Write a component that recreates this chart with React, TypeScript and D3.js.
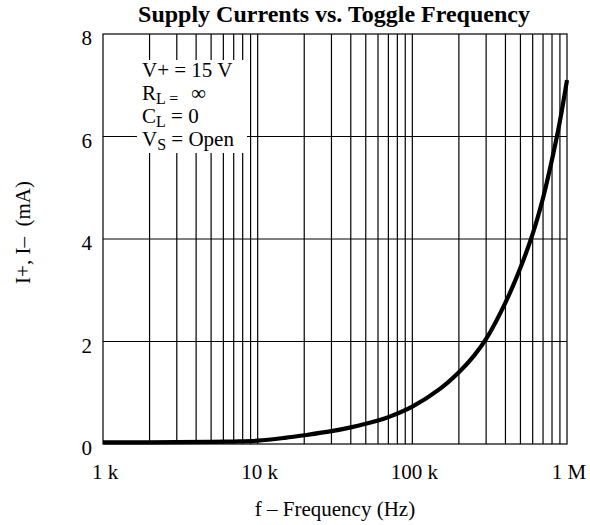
import React from "react";
import * as d3 from "d3";

const freqs = [1e3, 2e3, 5e3, 7e3, 1e4, 1.5e4, 2e4, 3e4, 4e4, 5e4, 6e4, 7e4, 1e5, 1.5e5, 2e5, 2.5e5, 3e5, 4e5, 5e5, 6e5, 7e5, 8e5, 9e5, 1e6];
const currents = [0.03, 0.033, 0.04, 0.048, 0.065, 0.12, 0.17, 0.25, 0.325, 0.395, 0.46, 0.525, 0.73, 1.07, 1.4, 1.72, 2.05, 2.76, 3.44, 4.1, 4.8, 5.55, 6.3, 7.1];
const yTicks = [0, 2, 4, 6, 8];
const xTickValues = [1e3, 1e4, 1e5, 1e6];
const xTickLabels = ["1 k", "10 k", "100 k", "1 M"];

const W = 590, H = 525;
const L = 103, R = 567, T = 34, B = 444;
const FONT = "'Liberation Serif', 'Times New Roman', serif";

export default function App() {
  const x = d3.scaleLog().domain([1e3, 1e6]).range([L, R]);
  const y = d3.scaleLinear().domain([0, 8]).range([B, T]);
  const minor: number[] = [];
  for (let dec = 1e3; dec < 1e6; dec *= 10) {
    for (let m = 1; m <= 10; m++) {
      const v = dec * m;
      if (v > 1e3 && v < 1e6) minor.push(v);
    }
  }
  const uniq = Array.from(new Set(minor));
  const pts: [number, number][] = freqs.map((f, i) => [x(f), y(currents[i])]);
  const line = d3.line().curve(d3.curveCatmullRom.alpha(0.5))(pts) || "";

  return (
    <svg width={W} height={H} style={{ position: "absolute", left: 0, top: 0, background: "#fff" }} fontFamily={FONT}>
      <rect x={0} y={0} width={W} height={H} fill="#fff" />
      {uniq.map((v) => (
        <line key={"v" + v} x1={x(v)} x2={x(v)} y1={T} y2={B} stroke="#000" strokeWidth={1.2} />
      ))}
      {yTicks.filter((t) => t > 0 && t < 8).map((t) => (
        <line key={"h" + t} x1={L} x2={R} y1={y(t)} y2={y(t)} stroke="#000" strokeWidth={1.2} />
      ))}
      <rect x={L} y={T} width={R - L} height={B - T} fill="none" stroke="#000" strokeWidth={1.2} />
      {/* legend background */}
      <rect x={137} y={60} width={110} height={93} fill="#fff" />
      <g fontSize={21} fill="#000">
        <text x={142} y={77}>V+ = 15 V</text>
        <text x={142} y={100}>R<tspan fontSize={16} dy={4}>L =</tspan></text>
        <text x={191} y={100}>∞</text>
        <text x={142} y={123}>C<tspan fontSize={16} dy={4}>L</tspan><tspan dy={-4}> = 0</tspan></text>
        <text x={142} y={146}>V<tspan fontSize={16} dy={4}>S</tspan><tspan dy={-4}> = Open</tspan></text>
      </g>
      <path d={line} fill="none" stroke="#000" strokeWidth={4.2} strokeLinecap="butt" />
      {yTicks.map((t) => (
        <text key={"yl" + t} x={92} y={y(t) + 11} fontSize={21} textAnchor="end">{t}</text>
      ))}
      {xTickValues.map((v, i) => (
        <text key={"xl" + v} x={x(v) + 2} y={479} fontSize={21} textAnchor="middle">{xTickLabels[i]}</text>
      ))}
      <text x={335} y={516} fontSize={21} textAnchor="middle">f – Frequency (Hz)</text>
      <text transform="translate(30,232.5) rotate(-90)" fontSize={21} textAnchor="middle" style={{ whiteSpace: "pre" }}>I+, I–  (mA)</text>
      <text x={334} y={22} fontSize={24} fontWeight="bold" textAnchor="middle">Supply Currents vs. Toggle Frequency</text>
    </svg>
  );
}
